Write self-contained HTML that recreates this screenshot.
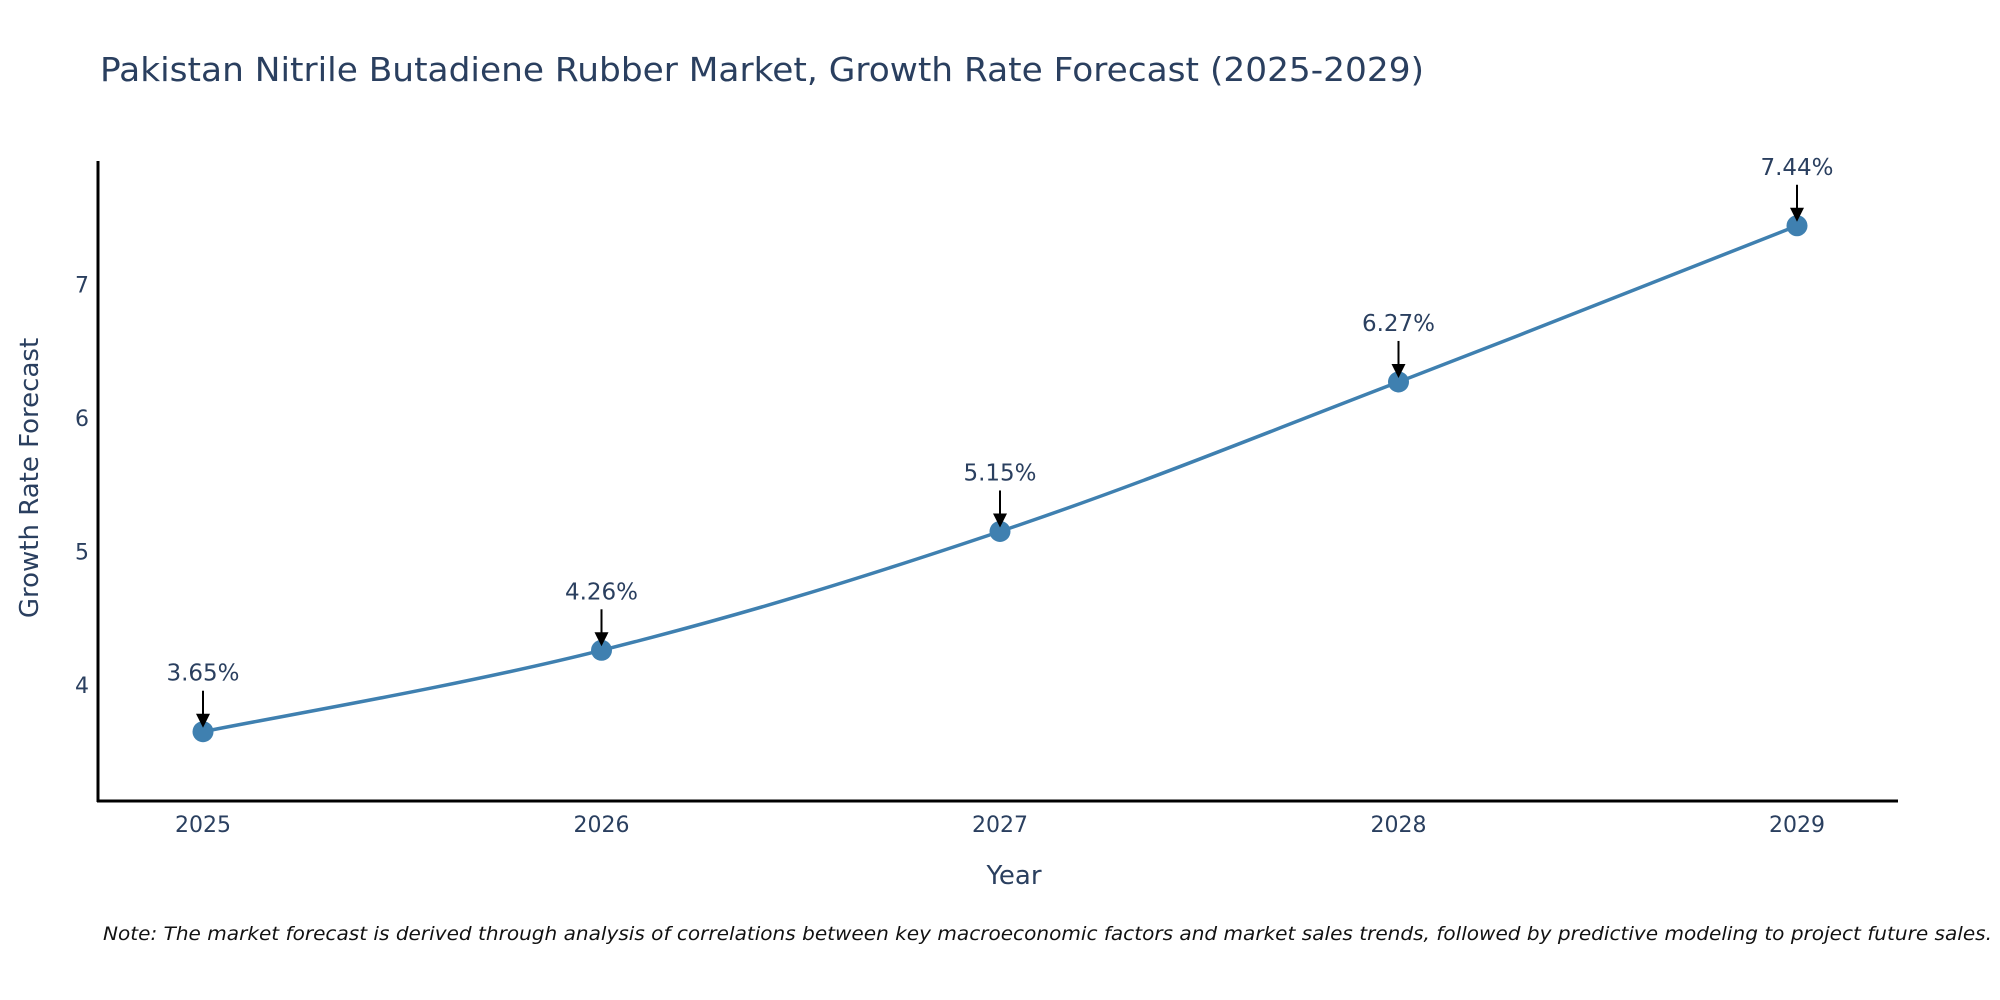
<!DOCTYPE html>
<html><head><meta charset="utf-8"><style>
html,body{margin:0;padding:0;background:#fff;}
svg{display:block;font-family:"DejaVu Sans","Liberation Sans",sans-serif;}
</style></head><body>
<svg id="chart" width="2000" height="1000" viewBox="0 0 2000 1000">
<text x="100" y="81" font-size="33" fill="#2a3f5f" textLength="1324" lengthAdjust="spacingAndGlyphs">Pakistan Nitrile Butadiene Rubber Market, Growth Rate Forecast (2025-2029)</text>
<g id="axes"></g>
<g id="series"></g>
<text x="1014" y="884" font-size="26" fill="#2a3f5f" text-anchor="middle">Year</text>
<text transform="translate(38,478) rotate(-90)" font-size="26" fill="#2a3f5f" text-anchor="middle">Growth Rate Forecast</text>
<text x="103" y="940" font-size="19" font-style="italic" fill="#111" textLength="1889" lengthAdjust="spacingAndGlyphs">Note: The market forecast is derived through analysis of correlations between key macroeconomic factors and market sales trends, followed by predictive modeling to project future sales.</text>
</svg>
<script>
const years = [2025, 2026, 2027, 2028, 2029];
const values = [3.65, 4.26, 5.15, 6.27, 7.44];
const labels = ["3.65%", "4.26%", "5.15%", "6.27%", "7.44%"];
const yTicks = [4, 5, 6, 7];

const NS = "http://www.w3.org/2000/svg";
function xs(v){ return 203 + (v - 2025) * 398.5; }
function ys(v){ return 685 - (v - 4) * 133.5; }
function mk(tag, attrs, parent){
  const e = document.createElementNS(NS, tag);
  for (const k in attrs) e.setAttribute(k, attrs[k]);
  parent.appendChild(e);
  return e;
}
const axes = document.getElementById('axes');
const series = document.getElementById('series');

const yl = mk('line', {x1:98, y1:161, x2:98, y2:802, stroke:'#000', 'stroke-width':3}, axes);


const xl = mk('line', {x1:97, y1:801, x2:1898, y2:801, stroke:'#000', 'stroke-width':3}, axes);



yTicks.forEach(t => {
  const e = mk('text', {x:89, y:ys(t)+8, 'font-size':22, fill:'#2a3f5f', 'text-anchor':'end'}, axes);
  e.textContent = t;
  
  
});
years.forEach(y => {
  const e = mk('text', {x:xs(y), y:832, 'font-size':22, fill:'#2a3f5f', 'text-anchor':'middle'}, axes);
  e.textContent = y;
  
  
});

const pts = years.map((y,i) => [xs(y), ys(values[i])]);
let d = 'M' + pts[0][0] + ',' + pts[0][1];
const s = 0.18;
for (let i = 0; i < pts.length - 1; i++){
  const p0 = pts[Math.max(0,i-1)], p1 = pts[i], p2 = pts[i+1], p3 = pts[Math.min(pts.length-1,i+2)];
  const c1 = [p1[0] + (p2[0]-p0[0])*s, p1[1] + (p2[1]-p0[1])*s];
  const c2 = [p2[0] - (p3[0]-p1[0])*s, p2[1] - (p3[1]-p1[1])*s];
  d += ' C' + c1 + ' ' + c2 + ' ' + p2;
}
const line = mk('path', {d:d, fill:'none', stroke:'#3f80b0', 'stroke-width':3.5}, series);



pts.forEach((p,i) => {
  const c = mk('circle', {cx:p[0], cy:p[1], r:10.5, fill:'#3f80b0'}, series);
  
  
  const a = mk('line', {x1:p[0], y1:p[1]-41, x2:p[0], y2:p[1]-16, stroke:'#000', 'stroke-width':2}, series);
  
  
  const h = mk('polygon', {points:(p[0]-7)+','+(p[1]-18)+' '+(p[0]+7)+','+(p[1]-18)+' '+p[0]+','+(p[1]-4), fill:'#000'}, series);
  
  
  const t = mk('text', {x:p[0], y:p[1]-51, 'font-size':23, fill:'#2a3f5f', 'text-anchor':'middle'}, series);
  t.textContent = labels[i];
  
  
});
</script>
</body></html>
